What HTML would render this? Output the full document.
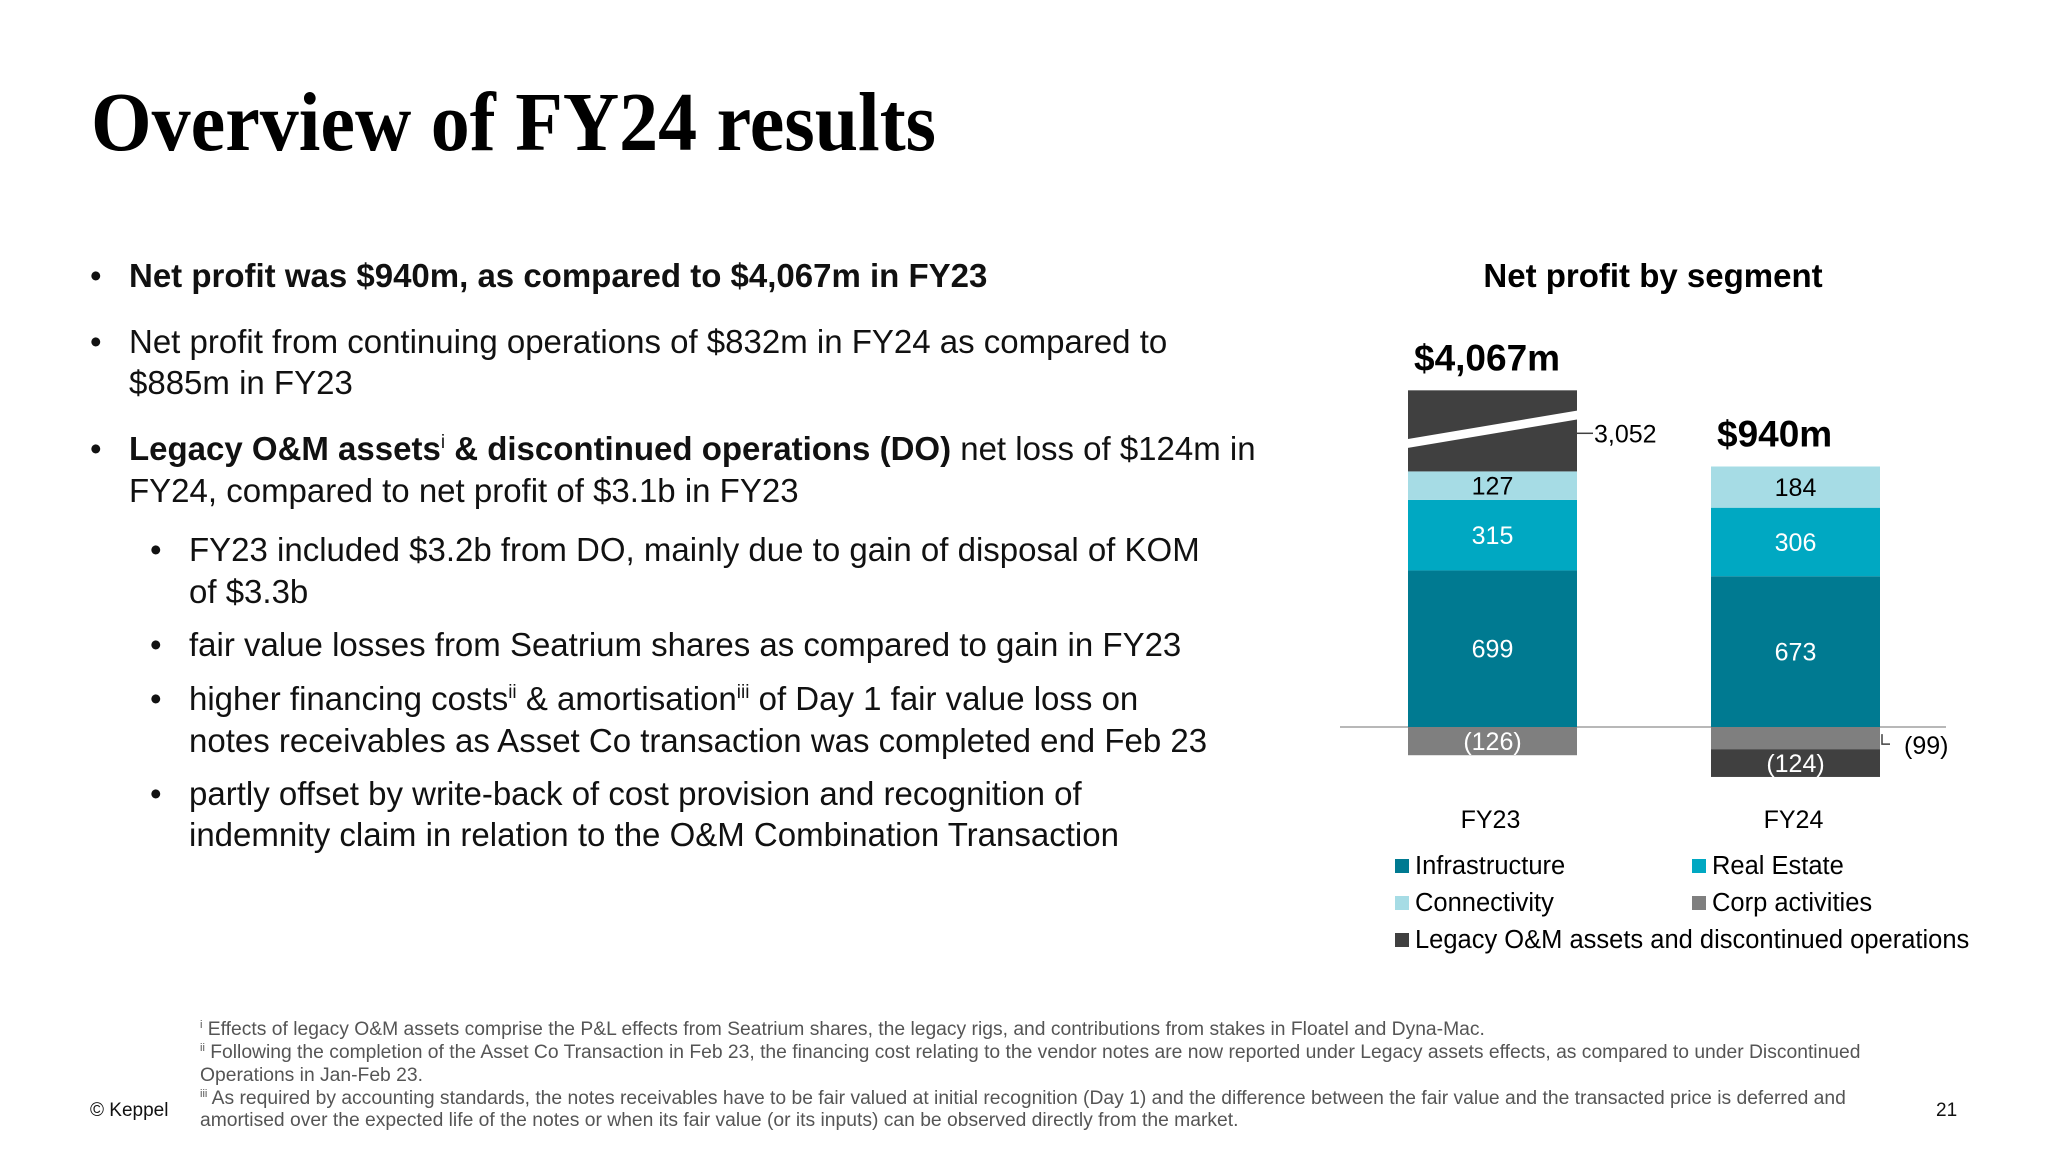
<!DOCTYPE html>
<html><head><meta charset="utf-8">
<style>
html,body{margin:0;padding:0;background:#fff;}
svg{display:block;font-family:"Liberation Sans",Arial,sans-serif;}
</style></head>
<body>
<svg id="page" width="2048" height="1152" viewBox="0 0 2048 1152" xmlns="http://www.w3.org/2000/svg">
<text x="91" y="150" font-family="Liberation Serif, serif" font-weight="bold" font-size="84" textLength="845" lengthAdjust="spacingAndGlyphs" fill="#000">Overview of FY24 results</text>

<g font-size="33" fill="#111">
<text x="90" y="287">•</text>
<text x="129" y="287" font-weight="bold">Net profit was $940m, as compared to $4,067m in FY23</text>
<text x="90" y="353">•</text>
<text x="129" y="353">Net profit from continuing operations of $832m in FY24 as compared to</text>
<text x="129" y="394">$885m in FY23</text>
<text x="90" y="460">•</text>
<text x="129" y="460"><tspan font-weight="bold">Legacy O&amp;M assets</tspan><tspan font-size="19" dy="-12">i</tspan><tspan dy="12" font-weight="bold"> &amp; discontinued operations (DO)</tspan> net loss of $124m in</text>
<text x="129" y="502">FY24, compared to net profit of $3.1b in FY23</text>
<text x="150" y="561">•</text>
<text x="189" y="561">FY23 included $3.2b from DO, mainly due to gain of disposal of KOM</text>
<text x="189" y="603">of $3.3b</text>
<text x="150" y="656">•</text>
<text x="189" y="656">fair value losses from Seatrium shares as compared to gain in FY23</text>
<text x="150" y="710">•</text>
<text x="189" y="710">higher financing costs<tspan font-size="19" dy="-12">ii</tspan><tspan dy="12"> &amp; amortisation</tspan><tspan font-size="19" dy="-12">iii</tspan><tspan dy="12"> of Day 1 fair value loss on</tspan></text>
<text x="189" y="752">notes receivables as Asset Co transaction was completed end Feb 23</text>
<text x="150" y="805">•</text>
<text x="189" y="805">partly offset by write-back of cost provision and recognition of</text>
<text x="189" y="846">indemnity claim in relation to the O&amp;M Combination Transaction</text>
</g>

<text x="1653" y="287" text-anchor="middle" font-size="33" font-weight="bold" fill="#000">Net profit by segment</text>
<g id="chart"></g>

<g font-size="25.5" fill="#000">
<rect x="1395" y="859" width="14" height="14" fill="#007A91"/>
<text x="1415" y="874">Infrastructure</text>
<rect x="1692" y="859" width="14" height="14" fill="#00A8C2"/>
<text x="1712" y="874">Real Estate</text>
<rect x="1395" y="896" width="14" height="14" fill="#A6DCE5"/>
<text x="1415" y="911">Connectivity</text>
<rect x="1692" y="896" width="14" height="14" fill="#7F7F7F"/>
<text x="1712" y="911">Corp activities</text>
<rect x="1395" y="933" width="14" height="14" fill="#404040"/>
<text x="1415" y="948">Legacy O&amp;M assets and discontinued operations</text>
</g>

<g font-size="19.3" fill="#555">
<text x="200" y="1035"><tspan font-size="11" dy="-7">i</tspan><tspan dy="7"> Effects of legacy O&amp;M assets comprise the P&amp;L effects from Seatrium shares, the legacy rigs, and contributions from stakes in Floatel and Dyna-Mac.</tspan></text>
<text x="200" y="1058"><tspan font-size="11" dy="-7">ii</tspan><tspan dy="7"> Following the completion of the Asset Co Transaction in Feb 23, the financing cost relating to the vendor notes are now reported under Legacy assets effects, as compared to under Discontinued</tspan></text>
<text x="200" y="1081">Operations in Jan-Feb 23.</text>
<text x="200" y="1104"><tspan font-size="11" dy="-7">iii</tspan><tspan dy="7"> As required by accounting standards, the notes receivables have to be fair valued at initial recognition (Day 1) and the difference between the fair value and the transacted price is deferred and</tspan></text>
<text x="200" y="1126">amortised over the expected life of the notes or when its fair value (or its inputs) can be observed directly from the market.</text>
</g>
<text x="90" y="1116" font-size="19" fill="#111">© Keppel</text>
<text x="1936" y="1116" font-size="19" fill="#111">21</text>
</svg>
<script>
const categories = ["FY23", "FY24"];
const totals = ["$4,067m", "$940m"];
const infrastructure = [699, 673];
const realEstate = [315, 306];
const connectivity = [127, 184];
const corpActivities = [-126, -99];
const legacy = [3052, -124];

const NS = "http://www.w3.org/2000/svg";
const g = document.getElementById("chart");
const zeroY = 727, pxPerUnit = 0.224, barW = 169;
const barX0 = 1408, barStep = 303;
const breakCap = 362; // legacy values above this are drawn with an axis break
function y(v) { return zeroY - v * pxPerUnit; }
function bx(i) { return barX0 + i * barStep; }
function fmt(v) { return v < 0 ? "(" + Math.abs(v) + ")" : v.toLocaleString("en-US"); }
function mk(tag, attrs) { const e = document.createElementNS(NS, tag); for (const k in attrs) e.setAttribute(k, attrs[k]); g.appendChild(e); return e; }

const zl = mk("line", {x1: 1340, x2: 1946, y1: zeroY, y2: zeroY, stroke: "#A0A0A0", "stroke-width": 1.5});



const series = [
  {name: "infrastructure", vals: infrastructure, color: "#007A91", txt: "#fff", canBreak: false},
  {name: "real-estate", vals: realEstate, color: "#00A8C2", txt: "#fff", canBreak: false},
  {name: "connectivity", vals: connectivity, color: "#A6DCE5", txt: "#000", canBreak: false},
  {name: "corp", vals: corpActivities, color: "#7F7F7F", txt: "#fff", canBreak: false},
  {name: "legacy", vals: legacy, color: "#404040", txt: "#fff", canBreak: true}
];

categories.forEach((cat, i) => {
  let pos = 0, neg = 0, top = zeroY;
  const x = bx(i);
  series.forEach(s => {
    const v = s.vals[i];
    let y0, y1, broken = false;
    if (v >= 0) {
      broken = s.canBreak && v > breakCap;
      const dv = broken ? breakCap : v;
      y0 = y(pos + dv); y1 = y(pos); pos += dv; top = Math.min(top, y0);
    } else {
      y0 = y(neg); y1 = y(neg + v); neg += v;
    }
    const r = mk("rect", {x: x, y: y0, width: barW, height: y1 - y0, fill: s.color});
    
    
    const cx = x + barW / 2;
    if (broken) {
      const h = y1 - y0;
      const p = mk("polygon", {points: [x, y0 + h * 0.6, x + barW, y0 + h * 0.25, x + barW, y0 + h * 0.36, x, y0 + h * 0.71].join(","), fill: "#fff"});
      
      
      const ly = y0 + h * 0.53;
      const ln = mk("line", {x1: x + barW, x2: x + barW + 16, y1: ly, y2: ly, stroke: "#404040", "stroke-width": 1.5});
      
      
      const t = mk("text", {x: x + barW + 17, y: ly + 9, "font-size": 25, fill: "#000"});
      t.textContent = fmt(v);
      
      
    } else if (s.name === "corp" && i === 1) {
      const my = (y0 + y1) / 2;
      const ln = mk("polyline", {points: [x + barW + 2, my - 4, x + barW + 2, my + 6, x + barW + 10, my + 6].join(","), fill: "none", stroke: "#404040", "stroke-width": 1.5});
      
      
      const t = mk("text", {x: x + barW + 24, y: my + 16, "font-size": 25, fill: "#000"});
      t.textContent = fmt(v);
      
      
    } else {
      const t = mk("text", {x: cx, y: (y0 + y1) / 2 + 9, "text-anchor": "middle", "font-size": 25, fill: s.txt});
      t.textContent = fmt(v);
      
      
    }
  });
  const tt = mk("text", {x: x + 6, y: top - 20, "font-size": 37, "font-weight": "bold", fill: "#000"});
  tt.textContent = totals[i];
  
  
  const cl = mk("text", {x: x + barW / 2 - 2, y: 828, "text-anchor": "middle", "font-size": 25, fill: "#000"});
  cl.textContent = cat;
  
  
});
</script>
</body></html>
